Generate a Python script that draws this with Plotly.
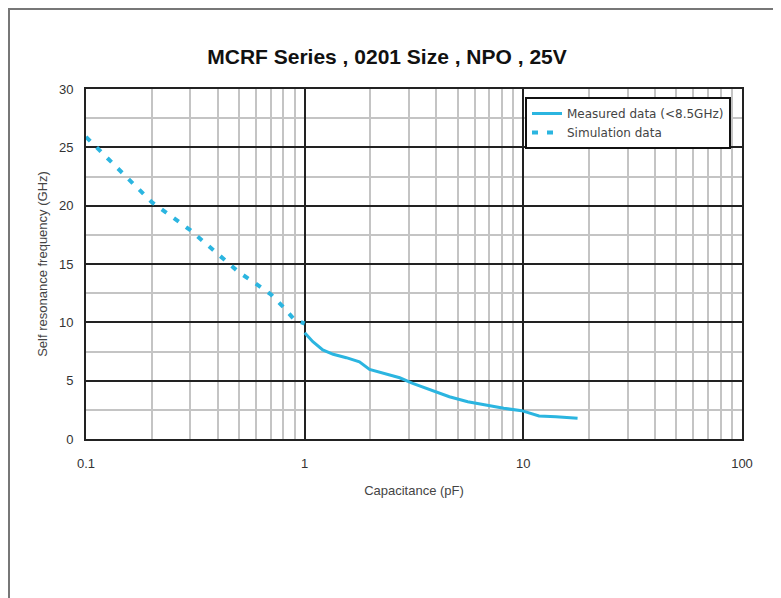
import plotly.graph_objects as go

# Simulation data (dashed)
sim_c = [0.1, 0.2, 0.3, 0.4, 0.5, 0.6, 0.7, 0.8, 0.9, 1.0]
sim_f = [25.9, 20.3, 17.9, 15.9, 14.3, 13.3, 12.4, 11.3, 10.2, 9.9]

# Measured data (solid)
meas_c = [1.00, 1.09, 1.21, 1.35, 1.55, 1.78, 1.98, 2.28, 2.72, 3.12, 3.60, 4.06,
          4.59, 5.57, 6.74, 8.14, 9.83, 11.8, 14.1, 17.7]
meas_f = [9.11, 8.34, 7.63, 7.26, 6.97, 6.62, 5.97, 5.63, 5.25, 4.77, 4.34, 3.97,
          3.62, 3.20, 2.91, 2.63, 2.43, 1.97, 1.91, 1.77]

title_text = "MCRF Series , 0201 Size , NPO , 25V"
x_title = "Capacitance (pF)"
y_title = "Self resonance frequency (GHz)"
x_ticks = [0.1, 1, 10, 100]
x_ticklabels = ["0.1", "1", "10", "100"]

line_color = "#2bb5e0"

fig = go.Figure()
fig.add_trace(go.Scatter(x=meas_c, y=meas_f, mode="lines", name="Measured data (<8.5GHz)",
                         line=dict(color=line_color, width=3)))
fig.add_trace(go.Scatter(x=sim_c, y=sim_f, mode="lines", name="Simulation data",
                         line=dict(color=line_color, width=4, dash="6px,9px")))

# page has an 8px body margin; figure is sized/positioned to compensate
OFF = 8
W, H = 781 - OFF, 598 - OFF
L, T = 86 - OFF, 89 - OFF
pw, ph = 656, 350
R, B = W - L - pw, H - T - ph

def px2paper_x(px):
    return (px - OFF - L) / pw

def px2paper_y(py):
    return (T + ph - (py - OFF)) / ph

fig.update_layout(
    width=W, height=H,
    margin=dict(l=L, r=R, t=T, b=B),
    paper_bgcolor="white", plot_bgcolor="white",
    font=dict(family="Liberation Sans, Arial, sans-serif", color="#333333", size=12),
    title=dict(text="<b>" + title_text + "</b>", x=(387 - OFF) / W, xref="container", xanchor="center",
               y=1 - (57 - OFF) / H, yref="container", yanchor="middle",
               font=dict(family="Liberation Sans, Arial", size=21, color="#111111")),
    showlegend=True,
    legend=dict(x=px2paper_x(525), y=px2paper_y(97), xanchor="left", yanchor="top",
                bgcolor="white", bordercolor="#111111", borderwidth=2,
                font=dict(family="DejaVu Sans, Liberation Sans", size=12, color="#444444"),
                tracegroupgap=0, itemwidth=30),
    xaxis=dict(type="log", range=[-1, 2], tickvals=x_ticks, ticktext=x_ticklabels,
               showgrid=True, gridcolor="#222222", gridwidth=2,
               minor=dict(dtick="D1", showgrid=True, gridcolor="#c4c4c4", gridwidth=2, ticks=""),
               showline=True, linecolor="#222222", linewidth=2, mirror=True,
               ticks="", zeroline=False, ticklabelstandoff=11,
               title=dict(text=x_title, font=dict(size=13, color="#444444"), standoff=16),
               tickfont=dict(size=13, color="#333333")),
    yaxis=dict(range=[0, 30], dtick=5, tick0=0,
               showgrid=True, gridcolor="#222222", gridwidth=2,
               minor=dict(dtick=2.5, tick0=0, showgrid=True, gridcolor="#c4c4c4", gridwidth=2, ticks=""),
               showline=True, linecolor="#222222", linewidth=2, mirror=True,
               ticks="", zeroline=False, ticklabelstandoff=8,
               title=dict(text=y_title, font=dict(size=13, color="#444444"), standoff=8),
               tickfont=dict(size=13, color="#333333")),
)

# outer frame (top and left edges of the image border)
fig.add_shape(type="line", xref="paper", yref="paper",
              x0=-L / pw, x1=(W - L) / pw, y0=(T + ph - 1) / ph, y1=(T + ph - 1) / ph,
              line=dict(color="#777777", width=2))
fig.add_shape(type="line", xref="paper", yref="paper",
              x0=(1 - L) / pw, x1=(1 - L) / pw, y0=(T + ph) / ph, y1=-B / ph,
              line=dict(color="#777777", width=2))

fig.write_html("out.html")
